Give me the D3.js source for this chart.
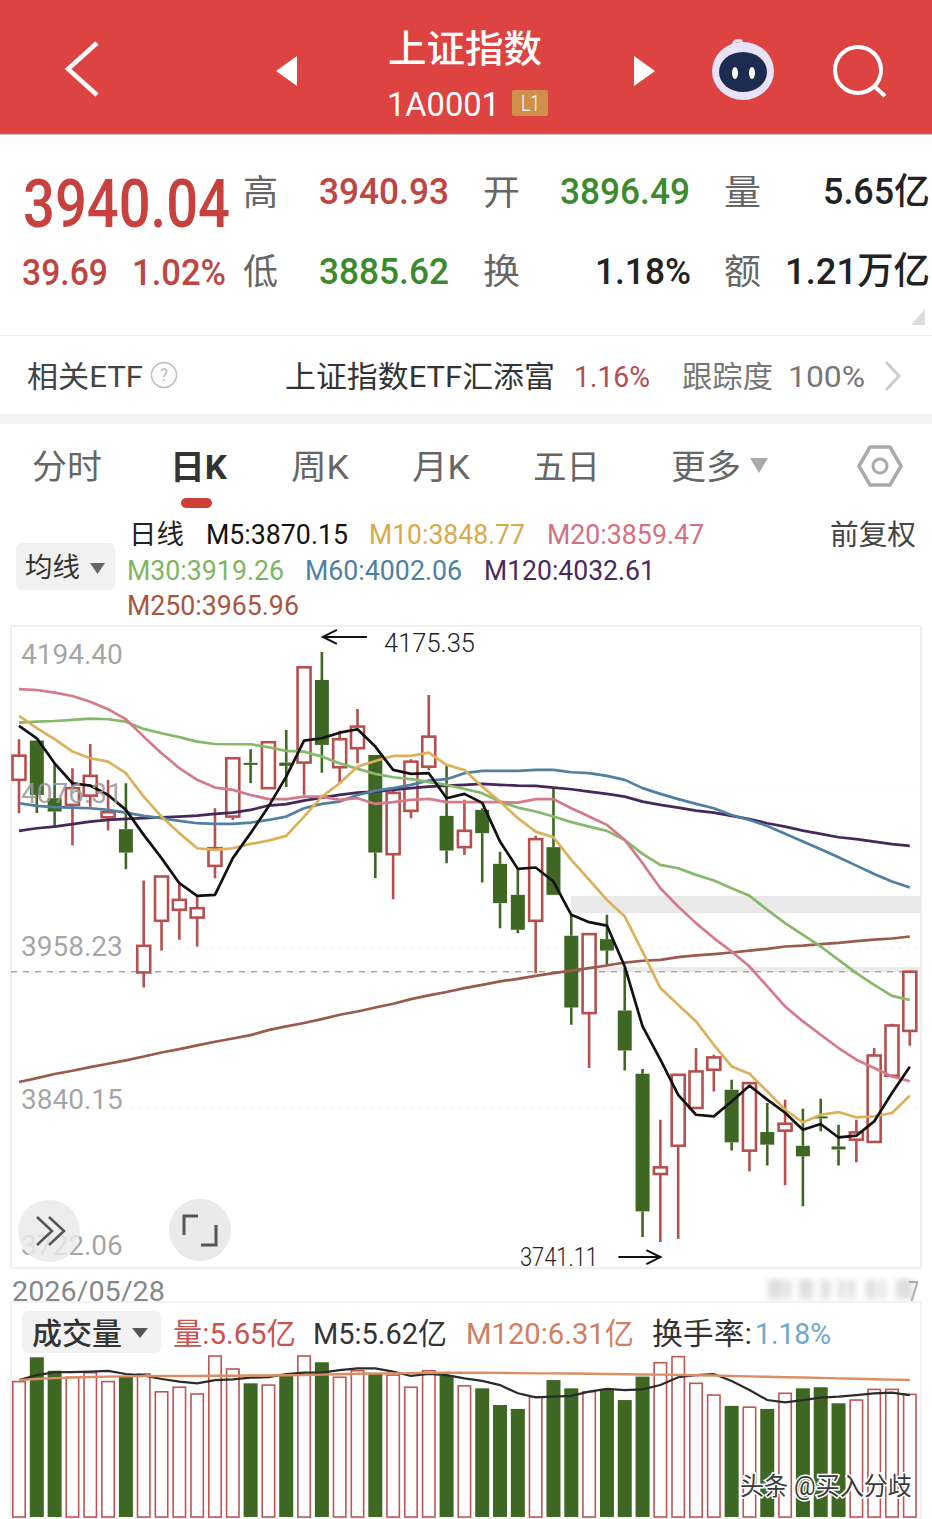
<!DOCTYPE html>
<html><head><meta charset="utf-8">
<script src="https://cdn.jsdelivr.net/npm/d3@7/dist/d3.min.js"></script>
<style>html,body{margin:0;padding:0;background:#fff}svg{display:block}text{font-family:Roboto,"Noto Sans CJK SC",sans-serif}</style>
</head><body><div id="chart"></div>
<script>
const open=[4081.2,4110.1,4067.7,4062.8,4069.6,4053.7,4044.9,3939.5,3977.5,3985.6,3979.9,4017.9,4054.2,4093.7,4075.1,4093.9,4093.9,4154.7,4090.5,4104.5,4099.5,4026.5,4058.4,4090.9,4054.7,4031.7,4059.1,4019.4,3996.6,3977.5,4031.7,3966.5,3909.6,3964.0,3911.5,3865.0,3791.2,3812.0,3839.8,3867.9,3853.2,3808.4,3822.1,3823.1,3812.0,3833.6,3811.5,3816.5,3814.8,3863.5,3896.49];
const high=[4111.1,4110.6,4093.4,4089.8,4107.6,4081.2,4078.7,4007.1,4010.1,4005.9,3995.3,4060.3,4097.1,4103.7,4108.9,4117.9,4164.0,4175.35,4117.4,4133.4,4099.5,4073.8,4096.4,4143.7,4091.7,4066.5,4060.3,4028.4,4016.2,4040.0,4075.1,3981.9,3967.7,3981.9,3942.9,3868.4,3831.2,3864.2,3883.9,3879.0,3860.6,3858.1,3843.4,3845.9,3839.2,3846.6,3827.5,3831.2,3883.9,3901.8,3940.93];
const low=[4056.7,4056.9,4046.8,4032.9,4061.5,4043.9,4015.5,3928.4,3955.6,3963.5,3958.6,4008.9,4051.8,4078.7,4075.1,4076.0,4070.1,4086.5,4078.7,4093.4,4008.9,3993.4,4053.0,4088.5,4019.9,4026.0,4005.7,3972.1,3968.4,3939.0,3996.6,3901.0,3869.2,3945.1,3867.4,3744.9,3741.11,3743.4,3839.8,3852.0,3808.6,3793.1,3797.5,3782.9,3767.4,3822.6,3797.5,3799.8,3814.8,3862.8,3885.62];
const close=[4099.0,4070.1,4057.9,4075.1,4084.1,4057.4,4027.7,3959.1,4010.1,3992.9,3986.8,4030.9,4097.1,4092.2,4108.9,4091.5,4164.0,4106.9,4111.1,4120.4,4027.7,4071.6,4094.6,4113.0,4029.2,4043.7,4042.0,3990.5,3970.9,4037.6,3996.6,3913.7,3967.7,3955.6,3882.1,3763.7,3796.1,3864.2,3866.7,3877.0,3814.5,3858.1,3812.8,3828.2,3804.2,3832.1,3809.3,3821.8,3878.4,3900.5,3940.04];
const m5=[4120.9,4111.8,4093.4,4078.7,4077.0,4070.1,4059.1,4040.7,4023.6,4005.2,3995.9,3996.6,4023.6,4042.0,4061.5,4083.6,4110.1,4111.8,4115.9,4118.4,4105.7,4088.5,4085.6,4086.1,4067.7,4070.9,4064.3,4035.8,4015.7,4016.7,4006.4,3981.9,3976.5,3974.0,3943.9,3899.8,3875.3,3849.5,3834.8,3833.6,3844.6,3856.2,3845.9,3836.3,3823.8,3828.0,3818.1,3819.4,3829.9,3850.8,3870.15];
const m10=[4128.2,4119.2,4111.1,4102.0,4097.1,4094.6,4086.1,4068.9,4054.2,4042.0,4030.9,4029.7,4030.9,4034.1,4036.5,4040.0,4054.2,4068.9,4078.7,4090.9,4095.1,4098.8,4098.8,4101.2,4092.2,4088.5,4076.2,4065.2,4053.0,4043.1,4039.0,4022.3,4007.7,3992.9,3980.7,3954.9,3928.0,3915.7,3903.5,3886.3,3870.4,3865.0,3852.0,3838.5,3829.2,3834.8,3836.8,3832.9,3833.6,3836.1,3848.77];
const m20=[4147.9,4147.3,4145.4,4142.9,4138.7,4133.2,4125.8,4113.0,4100.8,4089.8,4081.2,4075.5,4073.8,4070.1,4067.0,4067.0,4068.9,4068.9,4066.5,4067.7,4063.5,4064.8,4066.5,4067.2,4064.8,4064.8,4064.8,4064.8,4064.5,4067.0,4067.0,4060.3,4054.2,4048.1,4037.0,4019.9,4001.5,3988.0,3975.8,3964.8,3954.9,3943.9,3929.2,3914.5,3903.5,3893.7,3883.9,3875.3,3869.2,3863.0,3859.47];
const m30=[4123.3,4124.0,4124.5,4125.3,4126.2,4125.8,4124.0,4118.7,4115.5,4112.6,4109.3,4107.6,4107.4,4107.4,4105.2,4102.5,4102.0,4098.3,4093.4,4089.3,4085.6,4083.1,4081.7,4079.5,4077.5,4074.5,4071.4,4065.2,4060.8,4057.9,4054.2,4050.1,4046.8,4043.7,4037.0,4026.7,4018.7,4016.2,4011.3,4007.1,4001.5,3995.9,3985.6,3975.8,3967.2,3958.6,3948.8,3939.0,3930.4,3922.3,3919.26];
const m60=[4064.0,4062.0,4061.1,4060.8,4060.3,4059.1,4057.1,4054.7,4053.0,4051.0,4049.3,4048.8,4048.8,4049.8,4051.7,4054.2,4060.3,4063.5,4065.2,4070.1,4073.3,4075.1,4077.5,4080.7,4081.7,4086.1,4087.8,4087.8,4087.8,4088.5,4088.5,4086.8,4086.1,4084.1,4081.2,4075.1,4070.9,4067.0,4063.5,4060.3,4055.4,4051.7,4047.3,4041.5,4035.8,4030.2,4024.3,4018.1,4012.0,4006.4,4002.06];
const m120=[4043.7,4045.6,4046.8,4048.6,4050.5,4051.7,4052.5,4053.0,4053.7,4054.2,4054.9,4056.2,4057.1,4059.1,4062.3,4063.3,4065.9,4068.1,4070.1,4071.8,4072.6,4073.8,4075.1,4076.2,4077.0,4077.5,4078.2,4077.5,4077.0,4076.8,4075.5,4074.3,4072.6,4070.9,4068.9,4065.2,4062.8,4060.8,4058.6,4057.1,4054.7,4052.3,4049.3,4046.8,4043.9,4041.5,4039.0,4037.6,4035.8,4033.9,4032.61];
const m250=[3858.9,3861.8,3864.8,3867.2,3869.9,3872.3,3874.8,3877.7,3880.6,3883.1,3885.8,3888.5,3890.9,3893.4,3897.1,3899.8,3902.3,3905.2,3908.4,3910.8,3913.7,3916.5,3919.9,3922.6,3925.1,3928.0,3930.4,3932.9,3934.8,3937.0,3939.0,3940.9,3942.7,3944.6,3946.8,3948.1,3948.8,3950.8,3952.0,3953.0,3954.2,3955.6,3956.9,3958.6,3959.3,3960.3,3961.3,3962.6,3963.7,3964.5,3965.96];
const volume=[6.24,7.36,6.74,6.44,6.65,6.24,6.47,6.59,5.77,5.98,5.67,7.42,6.82,6.16,6.08,6.50,7.42,7.13,6.44,6.74,6.59,6.54,5.98,6.74,6.50,6.04,5.93,5.16,4.98,5.54,6.31,5.93,5.77,5.88,5.39,6.47,7.11,7.39,6.16,5.62,5.12,5.06,4.98,5.70,5.93,5.98,5.24,5.39,5.88,5.88,5.65];
const volM5=[6.31,6.54,6.67,6.68,6.70,6.73,6.59,6.53,6.36,6.24,6.16,6.31,6.34,6.42,6.44,6.59,6.65,6.65,6.77,6.85,6.85,6.70,6.50,6.59,6.54,6.39,6.27,6.08,5.70,5.51,5.55,5.58,5.78,5.90,5.85,5.88,6.08,6.44,6.54,6.59,6.27,5.85,5.39,5.28,5.39,5.50,5.55,5.62,5.70,5.73,5.62];
const volM120=[6.31,6.36,6.40,6.43,6.45,6.47,6.48,6.49,6.50,6.50,6.50,6.51,6.51,6.52,6.52,6.53,6.54,6.56,6.58,6.60,6.61,6.62,6.63,6.64,6.65,6.65,6.65,6.64,6.63,6.62,6.62,6.61,6.60,6.59,6.58,6.57,6.56,6.55,6.53,6.52,6.50,6.48,6.46,6.44,6.43,6.41,6.39,6.37,6.35,6.33,6.31];
const priceTicks=[4194.40,4076.31,3958.23,3840.15,3722.06];
const lastClose=3940.04, markHigh=4175.35, markLow=3741.11;

const RED='#B5504F', GREEN='#3F6724';
const idx=d3.range(open.length);
const svg=d3.select('#chart').append('svg').attr('width',932).attr('height',1519).attr('viewBox','0 0 932 1519');
const x=d3.scaleLinear().domain([0,50]).range([19,909.8]);
const y=d3.scaleLinear().domain([3722.06,4194.40]).range([1268,626]);
const yv=d3.scaleLinear().domain([0,10]).range([1517,1300]);

/* Each label is fitted to its measured width by a horizontal scale, so its box stays true. */
function T(str,x0,x1,yc,size,fill,weight){
  const el=svg.append('text').text(str).attr('x',0).attr('y',yc+size*0.36)
    .attr('font-size',size).attr('fill',fill).attr('font-weight',weight||400);
  const k=(x1-x0)/el.node().getComputedTextLength();
  el.attr('transform',`translate(${x0},0) scale(${k},1)`);
  return el;
}
function P(d,attrs){const p=svg.append('path').attr('d',d).attr('fill','none');for(const k in attrs)p.attr(k,attrs[k]);return p;}

/* header */
svg.append('rect').attr('width',932).attr('height',134).attr('fill','#DD4341');
svg.append('rect').attr('y',133).attr('width',932).attr('height',2).attr('fill','#9a7a7a').attr('opacity',.5);
P('M97 43L68 69L97 95',{stroke:'#fff','stroke-width':4.5});
P('M297 56L276 71L297 86Z',{fill:'#fff'});
P('M634 56L655 71L634 86Z',{fill:'#fff'});
T('上证指数',388,542,48,38,'#fff',500);
T('1A0001',387,500,104,33,'#fff',400);
svg.append('rect').attr('x',512).attr('y',90).attr('width',36).attr('height',26).attr('rx',2).attr('fill','#D08F4A');
T('L1',521,540,103,22,'#fff',300);
svg.append('ellipse').attr('cx',743).attr('cy',71).attr('rx',31).attr('ry',29).attr('fill','#E6E2F8');
svg.append('ellipse').attr('cx',743).attr('cy',72).attr('rx',24).attr('ry',20).attr('fill','#1E2B50');
svg.append('ellipse').attr('cx',735).attr('cy',73).attr('rx',3).attr('ry',6).attr('fill','#fff');
svg.append('ellipse').attr('cx',752).attr('cy',73).attr('rx',3).attr('ry',6).attr('fill','#fff');
P('M741 46V41Q734 39 733 45',{stroke:'#E6E2F8','stroke-width':3});
svg.append('circle').attr('cx',858).attr('cy',70).attr('r',23).attr('fill','none').attr('stroke','#fff').attr('stroke-width',4);
P('M874 86L885 96',{stroke:'#fff','stroke-width':4});

/* quote block */
T('3940.04',23,230,203,66,'#C8413F',500);
T('高',243,278,192,35,'#666');T('3940.93',319,449,191,37,'#BF4543',500);
T('开',483,520,192,35,'#666');T('3896.49',560,690,191,37,'#3C8A2E',500);
T('量',724,761,192,35,'#666');T('5.65亿',823,930,191,36,'#222',500);
T('39.69',22,108,272,37,'#BF4543',500);T('1.02%',132,226,272,37,'#BF4543',500);
T('低',243,278,271,35,'#666');T('3885.62',319,449,271,37,'#3C8A2E',500);
T('换',483,520,271,35,'#666');T('1.18%',595,691,271,37,'#222',500);
T('额',724,761,271,35,'#666');T('1.21万亿',785,930,271,37,'#222',500);
P('M925 309V325H911Z',{fill:'#DDD'});
svg.append('rect').attr('y',335).attr('width',932).attr('height',1).attr('fill','#EDEDED');
T('相关ETF',27,143,376,30,'#444');
svg.append('circle').attr('cx',164).attr('cy',375).attr('r',12.5).attr('fill','none').attr('stroke','#BBB').attr('stroke-width',1.5);
T('?',160,168,375,18,'#BBB');
T('上证指数ETF汇添富',285,555,376,30,'#333');
T('1.16%',574,650,376,30,'#B84A50');
T('跟踪度',682,773,376,30,'#777');T('100%',788,865,376,30,'#777');
P('M886 362L899 376L886 390',{stroke:'#CCC','stroke-width':3});
svg.append('rect').attr('y',414).attr('width',932).attr('height',10).attr('fill','#F4F4F4');

/* tabs */
T('分时',32,102,467,34,'#666');T('日K',170,227,467,34,'#333',700);
T('周K',291,349,467,34,'#666');T('月K',412,470,467,34,'#666');
T('五日',533,600,467,34,'#666');T('更多',671,741,467,34,'#666');
P('M750 458H768L759 473Z',{fill:'#AAA'});
P('M870 447H890L901 466L890 485H870L859 466Z',{stroke:'#AAA','stroke-width':3.5});
svg.append('circle').attr('cx',880).attr('cy',466).attr('r',7).attr('fill','none').attr('stroke','#AAA').attr('stroke-width',3);
svg.append('rect').attr('x',181).attr('y',498).attr('width',31).attr('height',10).attr('rx',5).attr('fill','#CC4136');

/* legend */
T('日线',129,184,534,27,'#222');
T('M5:3870.15',206,348,534,27,'#111');
T('M10:3848.77',369,525,534,27,'#D9A94C');
T('M20:3859.47',547,704,534,27,'#D4707F');
T('前复权',830,916,535,28,'#444');
svg.append('rect').attr('x',16).attr('y',543).attr('width',99).attr('height',47).attr('rx',6).attr('fill','#F1F1F1');
T('均线',25,80,567,27,'#333');
P('M90 563H105L97.5 574Z',{fill:'#666'});
T('M30:3919.26',127,284,570,27,'#7EB563');
T('M60:4002.06',305,462,570,27,'#4F7FA3');
T('M120:4032.61',484,655,570,27,'#4A2A5E');
T('M250:3965.96',127,299,605,27,'#A9553F');

/* price panel */
svg.append('rect').attr('x',11).attr('y',626).attr('width',910).attr('height',642).attr('fill','#fff').attr('stroke','#EAEAEA').attr('stroke-width',1.5);
const gridG=svg.append('g').attr('transform','translate(11,0)')
  .call(d3.axisRight(y).tickValues(priceTicks).tickSize(910).tickFormat(''));
gridG.select('.domain').remove();
gridG.selectAll('line').attr('stroke','#EFEFEF').attr('stroke-dasharray','3 5');

svg.append('rect').attr('x',571).attr('y',896).attr('width',350).attr('height',17).attr('fill','#E9E9E9');
svg.append('rect').attr('x',571).attr('y',967).attr('width',350).attr('height',5).attr('fill','#EBEBEB');
svg.append('line').attr('x1',11).attr('x2',921).attr('y1',y(lastClose)).attr('y2',y(lastClose))
  .attr('stroke','#A9A99C').attr('stroke-width',1.5).attr('stroke-dasharray','6 6');

/* candles */
const up=i=>close[i]>=open[i];
const cG=svg.append('g');
cG.selectAll('path.wick').data(idx).join('path').attr('class','wick')
  .attr('d',i=>`M${x(i)} ${y(high[i])}V${y(Math.max(open[i],close[i]))}M${x(i)} ${y(Math.min(open[i],close[i]))}V${y(low[i])}`)
  .attr('stroke',i=>up(i)?RED:GREEN).attr('stroke-width',2.6).attr('fill','none');
cG.selectAll('rect').data(idx).join('rect')
  .attr('x',i=>x(i)-(up(i)?6.5:7))
  .attr('width',i=>up(i)?13:14)
  .attr('y',i=>y(Math.max(open[i],close[i])))
  .attr('height',i=>Math.max(1.5,Math.abs(y(open[i])-y(close[i]))))
  .attr('fill',i=>up(i)?'#fff':GREEN)
  .attr('stroke',i=>up(i)?RED:'none').attr('stroke-width',2.6);

/* moving averages */
const line=d3.line().x((d,i)=>x(i)).y(d=>y(d));
const maSeries=[[m250,'#9A5A4C'],[m120,'#47275A'],[m60,'#4F7FA3'],[m30,'#86B96A'],[m20,'#D57A8A'],[m10,'#DDB05A'],[m5,'#111111']];
svg.append('g').selectAll('path').data(maSeries).join('path')
  .attr('d',d=>line(d[0])).attr('fill','none').attr('stroke',d=>d[1]).attr('stroke-width',2.7).attr('stroke-linejoin','round');

/* price labels sit over the candles, slightly see-through */
const tickLabelCentres=[653,792,945,1098,1244];
const axisG=svg.append('g').attr('transform','translate(11,0)')
  .call(d3.axisRight(y).tickValues(priceTicks).tickSize(0).tickFormat(d3.format('.2f')));
axisG.select('.domain').remove();
axisG.selectAll('line').remove();
axisG.selectAll('text').attr('x',10).attr('font-size',28).attr('fill','#999').attr('fill-opacity',.88).attr('font-family','Roboto')
  .attr('text-anchor','start').attr('dy',null)
  .attr('y',(d,i)=>tickLabelCentres[i]-y(d)+10);

/* high/low marks */
const iH=high.indexOf(markHigh), iL=low.indexOf(markLow);
const yH=y(markHigh)-15, yL=y(markLow)+15;
P(`M${x(iH)+45} ${yH}H${x(iH)+1}M${x(iH)+15} ${yH-7}L${x(iH)+1} ${yH}L${x(iH)+15} ${yH+7}`,{stroke:'#111','stroke-width':2});
T(d3.format('.2f')(markHigh),384,475,643,26,'#222',300);
P(`M${x(iL)-42} ${yL}H${x(iL)}M${x(iL)-14} ${yL-7}L${x(iL)} ${yL}L${x(iL)-14} ${yL+7}`,{stroke:'#111','stroke-width':2});
T(d3.format('.2f')(markLow),520,598,1257,26,'#222',300);

/* overlay buttons */
svg.append('circle').attr('cx',49).attr('cy',1231).attr('r',31).attr('fill','#EAEAEA').attr('fill-opacity',.85);
P('M37 1217L52 1231L37 1245M49 1217L64 1231L49 1245',{stroke:'#555','stroke-width':2.5});
svg.append('circle').attr('cx',200).attr('cy',1230).attr('r',31).attr('fill','#EAEAEA');
P('M184 1235V1216H198M216 1225V1245H201',{stroke:'#555','stroke-width':3});

/* date row */
T('2026/05/28',12,165,1291,28,'#888');
const blur=svg.append('defs').append('filter').attr('id','b').attr('x','-40%').attr('width','180%');
blur.append('feGaussianBlur').attr('stdDeviation',3);
const stripes=svg.append('g').attr('filter','url(#b)').attr('fill','#DEDEDE');
[[768,15],[785,6],[799,14],[821,9],[838,6],[848,7],[866,10],[880,5],[896,17]].forEach(s=>stripes.append('rect').attr('x',s[0]).attr('y',1279).attr('width',s[1]).attr('height',20));
T('7',908,919,1291,28,'#AAA');

/* volume panel */
svg.append('rect').attr('x',11).attr('y',1302).attr('width',910).attr('height',217).attr('fill','#fff').attr('stroke','#EFEFEF').attr('stroke-width',1.5);
svg.append('rect').attr('x',22).attr('y',1311).attr('width',139).attr('height',42).attr('rx',6).attr('fill','#F2F2F2');
T('成交量',32,122,1333,30,'#333',500);
P('M132 1328H148L140 1338Z',{fill:'#555'});
T('量:5.65亿',173,296,1333,30,'#C9524F');
T('M5:5.62亿',313,447,1333,30,'#333');
T('M120:6.31亿',466,634,1333,30,'#D08060');
T('换手率:',652,752,1333,30,'#333');
T('1.18%',755,831,1333,30,'#6EA9CF');

const vG=svg.append('g');
vG.selectAll('rect').data(idx).join('rect')
  .attr('x',i=>x(i)-(up(i)?6.2:7)).attr('width',i=>up(i)?12.4:14)
  .attr('y',i=>yv(volume[i])).attr('height',i=>yv(0)-yv(volume[i]))
  .attr('fill',i=>up(i)?'#fff':GREEN)
  .attr('stroke',i=>up(i)?'#BF5555':'none').attr('stroke-width',1.6);
const vLine=d3.line().x((d,i)=>x(i)).y(d=>yv(d));
svg.append('path').attr('d',vLine(volM5)).attr('fill','none').attr('stroke','#2B2B2B').attr('stroke-width',2.2);
svg.append('path').attr('d',vLine(volM120)).attr('fill','none').attr('stroke','#DB8E62').attr('stroke-width',2.4);

/* watermark */
T('头条 @买入分歧',740,912,1486,25,'#3A3A3A').attr('stroke','#fff').attr('stroke-width',3).attr('paint-order','stroke');
</script></body></html>
